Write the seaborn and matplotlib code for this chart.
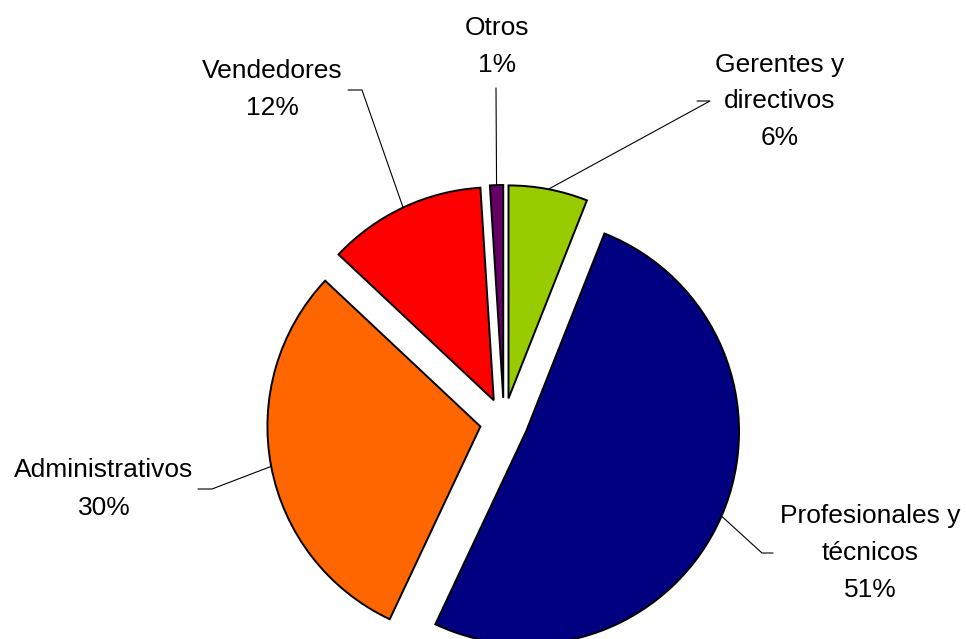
import numpy as np
import matplotlib
matplotlib.use("Agg")
import matplotlib.pyplot as plt
import seaborn as sns

# ---- data ----
categories = ["Gerentes y\ndirectivos", "Profesionales y\ntécnicos",
              "Administrativos", "Vendedores", "Otros"]
values = [6, 51, 30, 12, 1]
pct_labels = ["6%", "51%", "30%", "12%", "1%"]
colors = ["#99CC00", "#000080", "#FF6600", "#FF0000", "#660066"]

sns.set_theme(style="white")
plt.rcParams['font.family'] = ['Liberation Sans', 'DejaVu Sans']

W, H = 967, 639
fig = plt.figure(figsize=(W / 100, H / 100), dpi=100)
ax = fig.add_axes([0, 0, 1, 1])

R = 213
center = (504, H - 422)
explode_px = 24

wedges, _ = ax.pie(values, colors=sns.color_palette(colors), startangle=90,
                   counterclock=False, radius=R, center=center,
                   wedgeprops=dict(edgecolor='black', linewidth=1.4),
                   frame=False)
ax.set_xlim(0, W)
ax.set_ylim(0, H)
ax.set_aspect('equal')
ax.axis('off')

anchors = []
for w in wedges:
    mid = np.deg2rad((w.theta1 + w.theta2) / 2)
    cx = center[0] + explode_px * np.cos(mid)
    cy = center[1] + explode_px * np.sin(mid)
    w.set_center((cx, cy))
    anchors.append((cx + R * np.cos(mid), cy + R * np.sin(mid)))

# ---- label layout (screen pixel coords: x, baselines, leader elbow, leader end) ----
layout = [
    dict(x=780, base=[72, 108, 145], elbow=(710, 101), end=(697, 101)),
    dict(x=870, base=[523, 560, 597], elbow=(762, 553), end=(773, 553)),
    dict(x=104, base=[477, 515], elbow=(212, 489), end=(198, 489)),
    dict(x=272, base=[78, 115], elbow=(362, 90), end=(348, 90)),
    dict(x=497, base=[35, 72], elbow=None, end=(496, 88)),
]

fs = 19
for cat, pct, lay, anc in zip(categories, pct_labels, layout, anchors):
    lines = cat.split("\n") + [pct]
    for ln, b in zip(lines, lay["base"]):
        ax.text(lay["x"], H - b, ln, ha='center', va='baseline', fontsize=fs,
                color='black')
    xs = [anc[0]]
    ys = [anc[1]]
    if lay["elbow"] is not None:
        xs.append(lay["elbow"][0])
        ys.append(H - lay["elbow"][1])
    xs.append(lay["end"][0])
    ys.append(H - lay["end"][1])
    ax.plot(xs, ys, color='black', linewidth=0.8, zorder=0.5)

fig.savefig("out.png", dpi=100, facecolor='white')
